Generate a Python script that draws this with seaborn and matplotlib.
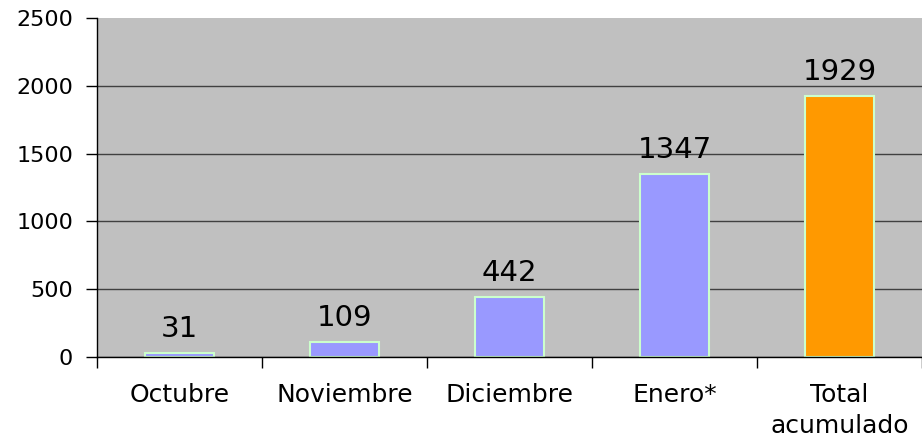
import matplotlib
matplotlib.use("Agg")
import matplotlib.pyplot as plt
import seaborn as sns

# data
meses = ["Octubre", "Noviembre", "Diciembre", "Enero*", "Total\nacumulado"]
casos = [31, 109, 442, 1347, 1929]
colores = ["#9999FF", "#9999FF", "#9999FF", "#9999FF", "#FF9900"]

sns.set_style("white")
plt.rcParams['font.family'] = ['DejaVu Sans']
plt.rcParams['text.color'] = 'black'

fig = plt.figure(figsize=(9.22, 4.43), dpi=100)
ax = fig.add_axes([0.105, 0.194, 0.895, 0.765])
ax.set_facecolor("#C0C0C0")

sns.barplot(x=meses, y=casos, hue=meses, palette=colores, legend=False,
            width=0.42, edgecolor="#CCFFCC", linewidth=1.5, saturation=1, ax=ax)

for i, v in enumerate(casos):
    ax.annotate(str(v), (i, v), xytext=(0, 11.5), textcoords="offset points",
                ha="center", va="baseline", fontsize=21, color="black")

ax.set_ylim(0, 2500)
ax.set_xlim(-0.5, 4.5)
ax.set_yticks(range(0, 2501, 500))
ax.yaxis.grid(True, color="#404040", linewidth=1)
ax.set_axisbelow(True)
ax.get_ygridlines()[-1].set_visible(False)
ax.set_xticks([i - 0.5 for i in range(6)], minor=False)
ax.set_xticklabels([])
ax.set_xticks(range(5), minor=True)
ax.set_xticklabels(meses, minor=True, linespacing=1.35)
ax.tick_params(axis="x", which="minor", bottom=True, length=0, pad=19,
               labelsize=18, labelcolor="black")
ax.tick_params(axis="x", which="major", bottom=True, length=8, width=1,
               color="black", direction="out")
ax.tick_params(axis="y", left=True, length=8, width=1, color="black",
               direction="out", pad=9, labelsize=16, labelcolor="black")
ax.set_xlabel("")
ax.set_ylabel("")

for s in ["top", "right"]:
    ax.spines[s].set_visible(False)
for s in ["left", "bottom"]:
    ax.spines[s].set_color("black")
    ax.spines[s].set_linewidth(1)

fig.savefig("out.png", dpi=100)
